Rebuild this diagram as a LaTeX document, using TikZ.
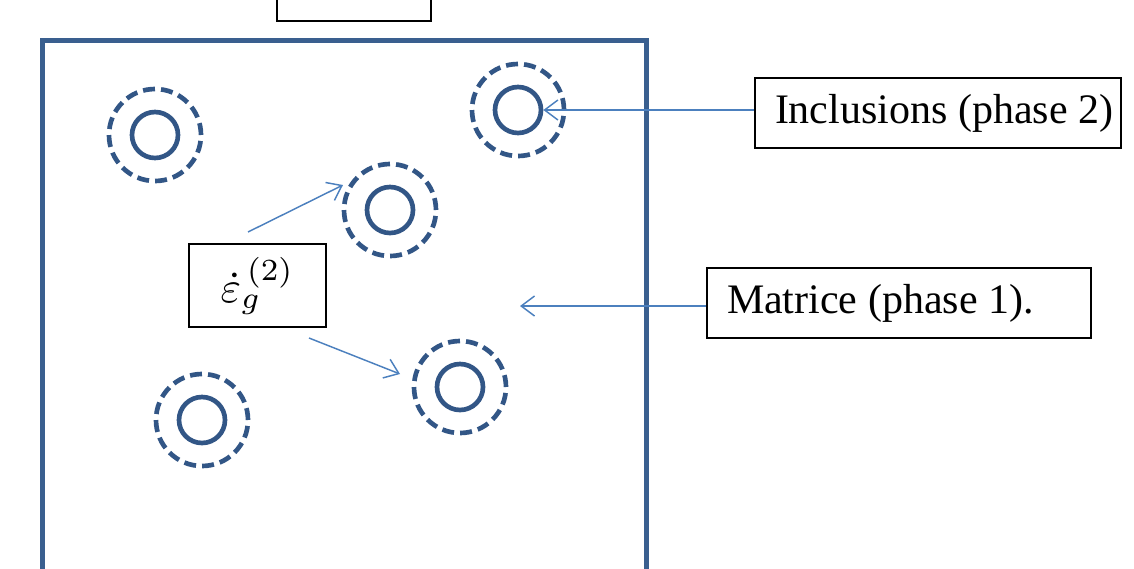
\documentclass[tikz,border=0pt]{standalone}
\usepackage{fontspec}
\setmainfont{Liberation Serif}
\usepackage{amsmath}
\usepackage{graphicx}
\usetikzlibrary{arrows.meta}

\definecolor{sqblue}{RGB}{58,95,143}
\definecolor{ringblue}{RGB}{50,86,134}
\definecolor{ptrblue}{RGB}{76,128,190}

\tikzset{
  incl/.style={circle, draw=ringblue, line width=3.5pt, minimum size=34.5pt, inner sep=0pt},
  shell/.style={circle, draw=ringblue, line width=3.5pt, minimum size=69pt, inner sep=0pt,
    dash pattern=on 9pt off 4.55pt},
  labelbox/.style={draw, line width=1.5pt, inner xsep=15pt, inner ysep=0pt, minimum height=52.5pt,
    font=\fontsize{31.5}{36}\selectfont},
  ptr/.style={draw=ptrblue, line width=1.1pt, -{Straight Barb[length=10pt,width=15pt,line width=1.1pt]}},
}

\begin{document}
\begin{tikzpicture}[x=0.75pt,y=0.75pt,yscale=-1,xscale=1]
\useasboundingbox (0,0) rectangle (1134,568);

%Shape: Rectangle (domain)
\draw [draw=sqblue, line width=3.75pt] (42,620) -- (42,40) -- (646,40) -- (646,620) ;
%Shape: Rectangle (top, cut off)
\node [draw, line width=1.5pt, minimum width=115.5pt, minimum height=45pt] (top) at (354,-9) {};

%Shape: Circles (inclusions)
\foreach \cx/\cy [count=\i] in {155/135,518/110,390/210,460/387,202/420}{
  \node [incl] (in\i) at (\cx,\cy) {};
  \node [shell] (sh\i) at (\cx,\cy) {};
}

% Text Node
\node [labelbox, minimum width=274.5pt] (inc) at (938,113) {\makebox[244.5pt][l]{Inclusions (phase 2)}};
% Text Node
\node [labelbox, minimum width=288pt] (mat) at (899,303) {\makebox[258pt][l]{Matrice (phase 1).}};
% Text Node
\node [draw, line width=1.5pt, minimum width=102.75pt, minimum height=62.25pt, inner sep=0pt]
  (eps) at (257.5,285.5) {\scalebox{3.3}{$\dot{\varepsilon}_{g}^{\,(2)}$}};

\coordinate (matpt) at (520,306);
\coordinate (a1s) at (248,232);
\coordinate (a1t) at (343,185);
\coordinate (a2s) at (309,338);
\coordinate (a2t) at (400,374);

%Straight Lines
\draw [ptr] (inc.west |- in2) -- (in2.east) ;
\draw [ptr] (mat.west |- matpt) -- (matpt) ;
\draw [ptr] (a1s) -- (a1t) ;
\draw [ptr] (a2s) -- (a2t) ;

\end{tikzpicture}
\end{document}
